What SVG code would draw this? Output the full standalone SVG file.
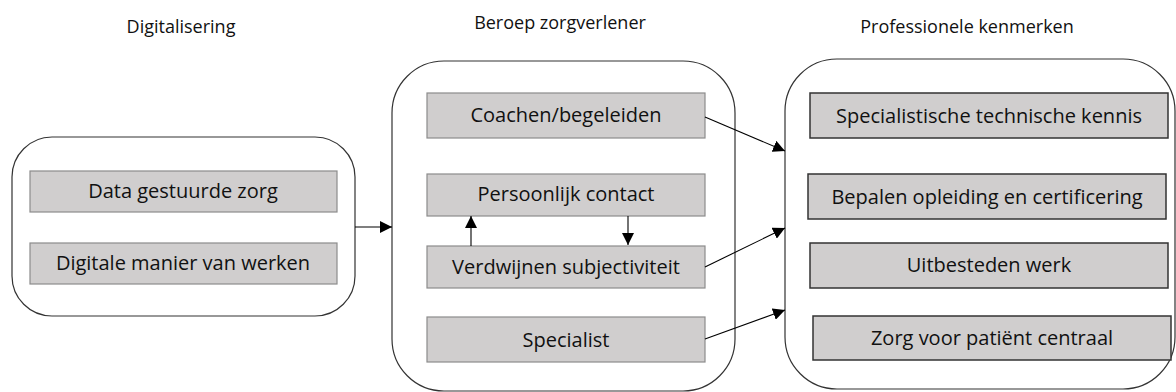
<svg xmlns="http://www.w3.org/2000/svg" width="1176" height="392" viewBox="0 0 1176 392">
<defs>
<style>
.title{font-family:"Open Sans","Liberation Sans",sans-serif;font-size:18px;fill:#111;text-anchor:middle}
.lbl{font-family:"Open Sans","Liberation Sans",sans-serif;font-size:20px;fill:#111;text-anchor:middle}
.cont{fill:#fff;stroke:#333;stroke-width:1.2}
.box{fill:#d0cece;stroke:#8c8c8c;stroke-width:1.2}
.boxd{fill:#d0cece;stroke:#333;stroke-width:1.5}
.conn{stroke:#000;stroke-width:1.1;fill:none}
</style>
<marker id="ah" viewBox="0 0 10 10" refX="10" refY="5" markerWidth="12" markerHeight="12" markerUnits="userSpaceOnUse" orient="auto">
<path d="M0,0 L10,5 L0,10 Z" fill="#000"/>
</marker>
</defs>
<rect width="1176" height="392" fill="#fff"/>
<text class="title" x="181" y="33">Digitalisering</text>
<text class="title" x="560" y="29">Beroep zorgverlener</text>
<text class="title" x="967" y="33">Professionele kenmerken</text>

<g id="digitalisering">
<rect class="cont" x="12" y="137" width="343" height="179" rx="40" ry="40"/>
<g id="data-gestuurde-zorg"><rect class="box" x="30" y="171" width="307" height="41"/><text class="lbl" x="183" y="198">Data gestuurde zorg</text></g>
<g id="digitale-manier"><rect class="box" x="30" y="243" width="307" height="41"/><text class="lbl" x="183" y="270">Digitale manier van werken</text></g>
</g>

<g id="beroep">
<rect class="cont" x="392" y="61" width="343" height="330" rx="52" ry="52"/>
<g id="coachen"><rect class="box" x="427" y="93" width="278" height="45"/><text class="lbl" x="566" y="122">Coachen/begeleiden</text></g>
<g id="persoonlijk"><rect class="box" x="427" y="174" width="278" height="42"/><text class="lbl" x="566" y="201">Persoonlijk contact</text></g>
<g id="verdwijnen"><rect class="box" x="427" y="246" width="278" height="42"/><text class="lbl" x="566" y="274">Verdwijnen subjectiviteit</text></g>
<g id="specialist"><rect class="box" x="427" y="317" width="278" height="45"/><text class="lbl" x="566" y="347">Specialist</text></g>
</g>

<g id="kenmerken">
<rect class="cont" x="785" y="59" width="390" height="330" rx="52" ry="52"/>
<g id="specialistische"><rect class="boxd" x="810" y="93" width="358" height="45"/><text class="lbl" x="989" y="123">Specialistische technische kennis</text></g>
<g id="bepalen"><rect class="boxd" x="808" y="174" width="358" height="45"/><text class="lbl" x="987" y="204">Bepalen opleiding en certificering</text></g>
<g id="uitbesteden"><rect class="boxd" x="810" y="243" width="358" height="45"/><text class="lbl" x="989" y="272">Uitbesteden werk</text></g>
<g id="zorg-patient"><rect class="boxd" x="813" y="316" width="358" height="44"/><text class="lbl" x="992" y="345">Zorg voor patiënt centraal</text></g>
</g>

<g id="connectors">
<line class="conn" x1="355" y1="227" x2="392" y2="227" marker-end="url(#ah)"/>
<line class="conn" x1="471" y1="246" x2="471" y2="216" marker-end="url(#ah)"/>
<line class="conn" x1="628" y1="216" x2="628" y2="245" marker-end="url(#ah)"/>
<line class="conn" x1="705" y1="117" x2="785" y2="151" marker-end="url(#ah)"/>
<line class="conn" x1="705" y1="267" x2="785" y2="228" marker-end="url(#ah)"/>
<line class="conn" x1="705" y1="339" x2="785" y2="310" marker-end="url(#ah)"/>
</g>
</svg>
